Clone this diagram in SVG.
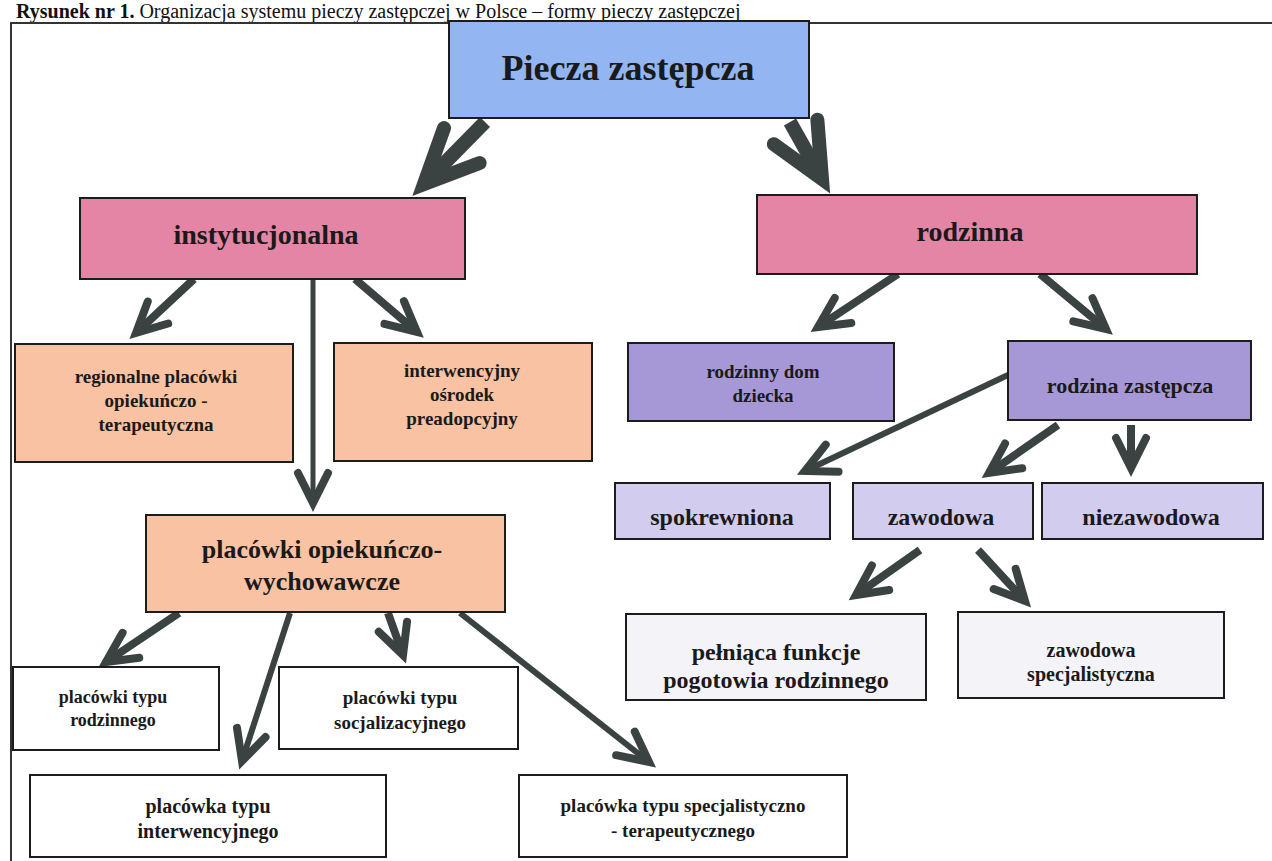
<svg xmlns="http://www.w3.org/2000/svg" width="1272" height="861" viewBox="0 0 1272 861">
<defs>
<style>
.box{stroke:#1c1c1c;stroke-width:2}
.t{font-family:"Liberation Serif","Times New Roman",serif;font-weight:bold;fill:#1a1a1a;text-anchor:middle}
.blue{fill:#93b5f2}
.pink{fill:#e585a5}
.peach{fill:#f9c2a3}
.purple{fill:#a698d6}
.lav{fill:#d2ccef}
.light{fill:#f4f3f8}
.white{fill:#ffffff}
.ar{fill:none;stroke:#3b4242;stroke-linecap:butt}
.m{stroke-width:8;marker-end:url(#ah)}
.s{stroke-width:6;marker-end:url(#ah)}
.b{stroke-width:14;marker-end:url(#big)}
</style>
<marker id="ah" viewBox="-40 -20 50 40" refX="0" refY="0" markerWidth="50" markerHeight="40" orient="auto" markerUnits="userSpaceOnUse">
<path d="M-30,-15 L0,0 L-30,15" fill="none" stroke="#3b4242" stroke-width="8" stroke-linejoin="miter" stroke-linecap="round"/>
</marker>
<marker id="big" viewBox="-70 -35 90 70" refX="0" refY="0" markerWidth="90" markerHeight="70" orient="auto" markerUnits="userSpaceOnUse">
<path d="M-54,-25 L0,0 L-54,25" fill="none" stroke="#3b4242" stroke-width="14" stroke-linejoin="miter" stroke-linecap="round"/>
</marker>
</defs>
<rect x="0" y="0" width="1272" height="861" fill="#ffffff"/>
<text x="16" y="18" font-family="'Liberation Serif','Times New Roman',serif" font-size="20" fill="#111"><tspan font-weight="bold">Rysunek nr 1.</tspan> Organizacja systemu pieczy zastępczej w Polsce – formy pieczy zastępczej</text>
<g id="frame" fill="none" stroke="#333" stroke-width="2">
<path d="M11,861 L11,23 L1272,23"/>
</g>
<g id="connectors">
<path class="ar b" d="M485,122 L424,184"/>
<path class="ar b" d="M790,122 L822,179"/>
<path class="ar m" d="M194,279 L136,333"/>
<path class="ar" stroke-width="5" marker-end="url(#ah)" d="M313,279 L313,503"/>
<path class="ar m" d="M355,279 L417,332"/>
<path class="ar m" d="M179,613 L106,662"/>
<path class="ar s" d="M290,613 L242,761"/>
<path class="ar m" d="M388,613 L403,655"/>
<path class="ar s" d="M460,613 L649,762"/>
<path class="ar m" d="M898,274 L818,327"/>
<path class="ar m" d="M1040,274 L1106,329"/>
<path class="ar s" d="M1008,375 L805,471"/>
<path class="ar m" d="M1058,425 L989,473"/>
<path class="ar m" d="M1131,425 L1131,468"/>
<path class="ar m" d="M920,550 L856,595"/>
<path class="ar m" d="M978,550 L1025,601"/>
</g>
<g id="piecza"><rect class="box blue" x="449" y="21" width="360" height="97"/><text class="t" x="628" y="80" font-size="36">Piecza zastępcza</text></g>
<g id="instytucjonalna"><rect class="box pink" x="80" y="198" width="385" height="81"/><text class="t" x="266" y="244" font-size="28">instytucjonalna</text></g>
<g id="rodzinna"><rect class="box pink" x="757" y="195" width="440" height="79"/><text class="t" x="970" y="241" font-size="28">rodzinna</text></g>
<g id="regionalne"><rect class="box peach" x="15" y="344" width="278" height="118"/><text class="t" font-size="19"><tspan x="156" y="383">regionalne placówki</tspan><tspan x="156" y="407">opiekuńczo -</tspan><tspan x="156" y="431">terapeutyczna</tspan></text></g>
<g id="osrodek"><rect class="box peach" x="334" y="343" width="258" height="118"/><text class="t" font-size="19"><tspan x="462" y="377">interwencyjny</tspan><tspan x="462" y="401">ośrodek</tspan><tspan x="462" y="425">preadopcyjny</tspan></text></g>
<g id="opiekuncze"><rect class="box peach" x="146" y="515" width="359" height="97"/><text class="t" font-size="26"><tspan x="322" y="558">placówki opiekuńczo-</tspan><tspan x="322" y="590">wychowawcze</tspan></text></g>
<g id="typ-rodzinny"><rect class="box white" x="13" y="667" width="206" height="83"/><text class="t" font-size="18"><tspan x="113" y="703">placówki typu</tspan><tspan x="113" y="726">rodzinnego</tspan></text></g>
<g id="typ-socjalizacyjny"><rect class="box white" x="279" y="667" width="239" height="82"/><text class="t" font-size="19"><tspan x="400" y="704">placówki typu</tspan><tspan x="400" y="729">socjalizacyjnego</tspan></text></g>
<g id="typ-interwencyjny"><rect class="box white" x="30" y="775" width="356" height="82"/><text class="t" font-size="20"><tspan x="208" y="813">placówka typu</tspan><tspan x="208" y="838">interwencyjnego</tspan></text></g>
<g id="typ-specjalistyczny"><rect class="box white" x="519" y="775" width="328" height="82"/><text class="t" font-size="19"><tspan x="683" y="812">placówka typu specjalistyczno</tspan><tspan x="683" y="837">- terapeutycznego</tspan></text></g>
<g id="rodzinny-dom"><rect class="box purple" x="628" y="343" width="266" height="78"/><text class="t" font-size="19"><tspan x="763" y="378">rodzinny dom</tspan><tspan x="763" y="402">dziecka</tspan></text></g>
<g id="rodzina-zastepcza"><rect class="box purple" x="1008" y="341" width="243" height="79"/><text class="t" x="1130" y="393" font-size="22">rodzina zastępcza</text></g>
<g id="spokrewniona"><rect class="box lav" x="615" y="483" width="215" height="56"/><text class="t" x="722" y="525" font-size="24">spokrewniona</text></g>
<g id="zawodowa"><rect class="box lav" x="853" y="483" width="180" height="56"/><text class="t" x="941" y="525" font-size="24">zawodowa</text></g>
<g id="niezawodowa"><rect class="box lav" x="1042" y="483" width="221" height="56"/><text class="t" x="1151" y="525" font-size="24">niezawodowa</text></g>
<g id="pogotowie"><rect class="box light" x="626" y="614" width="300" height="86"/><text class="t" font-size="24"><tspan x="776" y="660">pełniąca funkcje</tspan><tspan x="776" y="688">pogotowia rodzinnego</tspan></text></g>
<g id="specjalistyczna"><rect class="box light" x="958" y="612" width="266" height="86"/><text class="t" font-size="20"><tspan x="1091" y="657">zawodowa</tspan><tspan x="1091" y="681">specjalistyczna</tspan></text></g>
</svg>
